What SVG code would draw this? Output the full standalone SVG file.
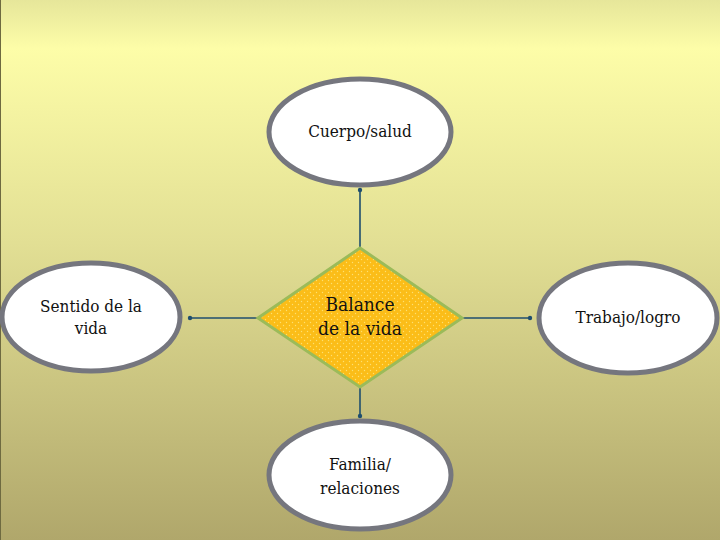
<svg xmlns="http://www.w3.org/2000/svg" width="720" height="540" viewBox="0 0 720 540">
<defs>
<linearGradient id="bg" x1="0" y1="0" x2="0" y2="1">
<stop offset="0" stop-color="#e6e69a"/>
<stop offset="0.09" stop-color="#fdfda8"/>
<stop offset="0.45" stop-color="#e2df94"/>
<stop offset="1" stop-color="#b0a76b"/>
</linearGradient>
<pattern id="dots" width="6" height="6" patternUnits="userSpaceOnUse">
<rect width="6" height="6" fill="#fbbd18"/>
<circle cx="1.5" cy="1.5" r="0.7" fill="#fde070"/>
<circle cx="4.5" cy="4.5" r="0.7" fill="#fde070"/>
</pattern>
<marker id="dot" markerWidth="6" markerHeight="6" refX="3" refY="3" markerUnits="userSpaceOnUse">
<circle cx="3" cy="3" r="2.2" fill="#1f4e6e"/>
</marker>
</defs>
<style>
.oval{fill:#ffffff;stroke:#75767e;stroke-width:5}
.conn{stroke:#1f4e6e;stroke-width:1.6;fill:none;marker-end:url(#dot)}
</style>
<rect width="720" height="540" fill="url(#bg)"/>
<line x1="0.5" y1="0" x2="0.5" y2="540" stroke="#6e6a40" stroke-width="1"/>
<g id="connectors">
<line class="conn" x1="360" y1="248" x2="360" y2="190"/>
<line class="conn" x1="258" y1="318" x2="190" y2="318"/>
<line class="conn" x1="462" y1="318" x2="530" y2="318"/>
<line class="conn" x1="360" y1="387" x2="360" y2="416"/>
</g>
<g font-family="'DejaVu Serif Condensed', 'DejaVu Serif', serif" fill="#111111" text-anchor="middle">
<g id="cuerpo">
<ellipse class="oval" cx="360" cy="132" rx="91" ry="53"/>
<text font-size="17" x="360" y="137">Cuerpo/salud</text>
</g>
<g id="sentido">
<ellipse class="oval" cx="91" cy="317" rx="89" ry="54"/>
<text font-size="17" x="91" y="312">Sentido de la</text>
<text font-size="17" x="91" y="334">vida</text>
</g>
<g id="balance">
<polygon points="360,248 462,318 360,387 258,318" fill="url(#dots)" stroke="#9bbb59" stroke-width="3"/>
<text font-size="19" x="360" y="311">Balance</text>
<text font-size="19" x="360" y="335">de la vida</text>
</g>
<g id="trabajo">
<ellipse class="oval" cx="628" cy="318" rx="89" ry="55"/>
<text font-size="17" x="628" y="323">Trabajo/logro</text>
</g>
<g id="familia">
<ellipse class="oval" cx="360" cy="475" rx="91" ry="54"/>
<text font-size="17" x="360" y="470">Familia/</text>
<text font-size="17" x="360" y="494">relaciones</text>
</g>
</g>
</svg>
